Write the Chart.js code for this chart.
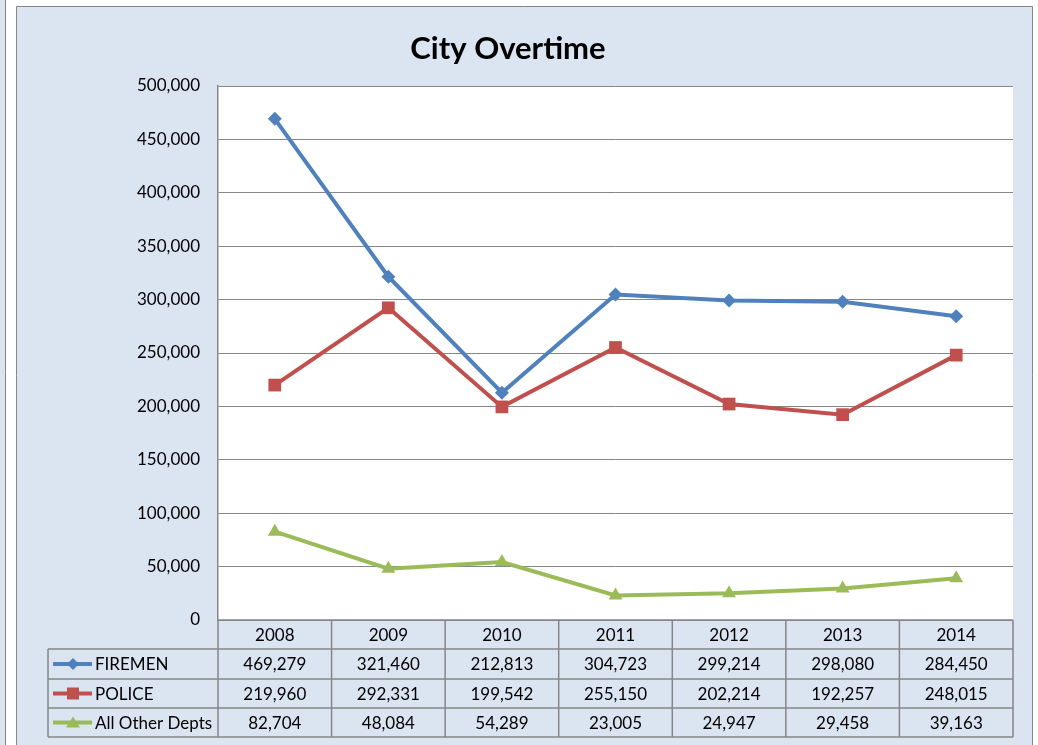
<!DOCTYPE html>
<html>
<head>
<meta charset="utf-8">
<script src="https://cdn.jsdelivr.net/npm/chart.js@4/dist/chart.umd.min.js"></script>
<style>
  body { margin: 0; background: #ffffff; }
  canvas { display: block; }
</style>
</head>
<body>
<canvas id="myChart" width="1038" height="745"></canvas>
<script>
const years = ['2008', '2009', '2010', '2011', '2012', '2013', '2014'];
const firemen = [469279, 321460, 212813, 304723, 299214, 298080, 284450];
const police = [219960, 292331, 199542, 255150, 202214, 192257, 248015];
const otherDepts = [82704, 48084, 54289, 23005, 24947, 29458, 39163];
const seriesNames = ['FIREMEN', 'POLICE', 'All Other Depts'];
const seriesColors = ['#4f81bd', '#c0504d', '#9bbb59'];

const FONT = 'Lato, "Noto Sans", sans-serif';
const BG = '#dbe5f1';
const LINE = '#868686';

function fmt(v) {
    return v.toLocaleString('en-US');
}

function drawMarker(ctx, kind, x, y, color) {
    ctx.fillStyle = color;
    ctx.beginPath();
    if (kind === 0) {
        ctx.moveTo(x, y - 6); ctx.lineTo(x + 6, y); ctx.lineTo(x, y + 6); ctx.lineTo(x - 6, y);
    } else if (kind === 1) {
        ctx.rect(x - 6, y - 6, 12, 12);
    } else {
        ctx.moveTo(x, y - 6); ctx.lineTo(x + 7, y + 5); ctx.lineTo(x - 7, y + 5);
    }
    ctx.closePath();
    ctx.fill();
}

// frame, background, white plot area, title and data table
const framePlugin = {
    id: 'frame',
    beforeDraw(chart) {
        const ctx = chart.ctx;
        const a = chart.chartArea;
        ctx.save();
        ctx.fillStyle = BG;
        ctx.fillRect(0, 0, 6, 745);
        ctx.fillRect(16, 6, 1017, 745);
        ctx.strokeStyle = LINE;
        ctx.lineWidth = 1;
        ctx.beginPath();
        ctx.moveTo(5.5, 0); ctx.lineTo(5.5, 745);
        ctx.moveTo(16.5, 745); ctx.lineTo(16.5, 6.5); ctx.lineTo(1032.5, 6.5); ctx.lineTo(1032.5, 745);
        ctx.stroke();
        ctx.fillStyle = '#ffffff';
        ctx.fillRect(a.left, a.top, a.right - a.left, a.bottom - a.top);
        ctx.restore();
    },
    afterDraw(chart) {
        const ctx = chart.ctx;
        const a = chart.chartArea;
        const x = chart.scales.x;
        ctx.save();
        ctx.fillStyle = '#000';
        ctx.font = 'bold 31px ' + FONT;
        ctx.textAlign = 'center';
        ctx.textBaseline = 'middle';
        ctx.fillText('City Overtime', 508, 49);

        const rows = [a.bottom, 649, 679, 708, 737];
        const colW = (a.right - a.left) / years.length;
        ctx.strokeStyle = LINE;
        ctx.lineWidth = 1.5;
        ctx.beginPath();
        ctx.moveTo(a.left, rows[0]); ctx.lineTo(a.right, rows[0]);
        for (let r = 1; r < rows.length; r++) {
            ctx.moveTo(48, rows[r]); ctx.lineTo(a.right, rows[r]);
        }
        ctx.moveTo(48, rows[1]); ctx.lineTo(48, rows[4]);
        for (let i = 0; i <= years.length; i++) {
            const cx = a.left + i * colW;
            ctx.moveTo(cx, rows[0]); ctx.lineTo(cx, rows[4]);
        }
        ctx.stroke();

        ctx.font = '17px ' + FONT;
        ctx.fillStyle = '#000';
        ctx.textAlign = 'center';
        const all = [firemen, police, otherDepts];
        years.forEach((yr, i) => {
            const cx = x.getPixelForValue(i);
            ctx.fillText(yr, cx, (rows[0] + rows[1]) / 2 + 1);
            all.forEach((s, k) => {
                ctx.fillText(fmt(s[i]), cx, (rows[k + 1] + rows[k + 2]) / 2 + 1);
            });
        });
        seriesNames.forEach((name, k) => {
            const cy = (rows[k + 1] + rows[k + 2]) / 2;
            ctx.strokeStyle = seriesColors[k];
            ctx.lineWidth = 4;
            ctx.beginPath();
            ctx.moveTo(53, cy); ctx.lineTo(92, cy);
            ctx.stroke();
            drawMarker(ctx, k, 73, cy, seriesColors[k]);
            ctx.fillStyle = '#000';
            ctx.textAlign = 'left';
            ctx.fillText(name, 95, cy + 1);
        });
        ctx.restore();
    }
};

function makeDataset(label, data, color, style, radius) {
    return {
        label: label,
        data: data,
        borderColor: color,
        backgroundColor: color,
        borderWidth: 4,
        pointStyle: style,
        pointRadius: radius,
        pointHoverRadius: radius,
        pointBorderWidth: 0,
        tension: 0
    };
}

new Chart(document.getElementById('myChart'), {
    type: 'line',
    data: {
        labels: years,
        datasets: [
            makeDataset('FIREMEN', firemen, seriesColors[0], 'rectRot', 7),
            makeDataset('POLICE', police, seriesColors[1], 'rect', 9),
            makeDataset('All Other Depts', otherDepts, seriesColors[2], 'triangle', 8)
        ]
    },
    plugins: [framePlugin],
    options: {
        responsive: false,
        animation: false,
        events: [],
        layout: { padding: { left: 3, right: 25, top: 86, bottom: 125 } },
        plugins: {
            legend: { display: false },
            title: { display: false },
            tooltip: { enabled: false }
        },
        scales: {
            x: {
                display: false,
                offset: true
            },
            y: {
                min: 0,
                max: 500000,
                afterFit(scale) { scale.width = 215; },
                ticks: {
                    stepSize: 50000,
                    padding: 18,
                    color: '#000',
                    font: { family: FONT, size: 17 },
                    callback: (v) => fmt(v)
                },
                grid: { color: LINE, lineWidth: 1, drawTicks: false },
                border: { color: LINE, width: 1.5 }
            }
        }
    }
});
</script>
</body>
</html>
